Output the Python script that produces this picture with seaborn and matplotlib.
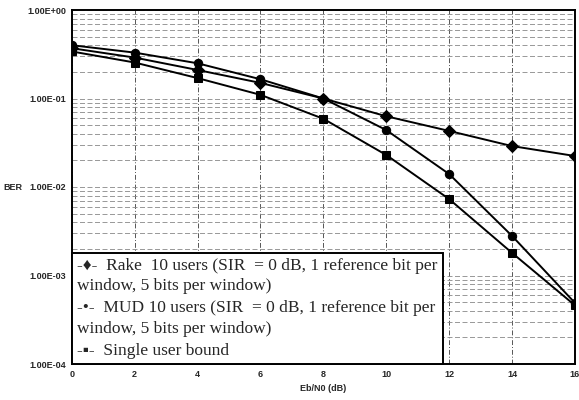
import numpy as np
import pandas as pd
import matplotlib
matplotlib.use('Agg')
import matplotlib.pyplot as plt
import seaborn as sns
from matplotlib.lines import Line2D
from matplotlib.ticker import FuncFormatter, LogLocator, FixedLocator

ebn0 = [0, 2, 4, 6, 8, 10, 12, 14, 16]
rake = [0.37, 0.29, 0.21, 0.15, 0.10, 0.063, 0.043, 0.029, 0.0224]
mud = [0.40, 0.33, 0.25, 0.165, 0.10, 0.044, 0.014, 0.0028, 0.00049]
single = [0.34, 0.255, 0.17, 0.11, 0.059, 0.023, 0.0073, 0.0018, 0.00046]

labels = ['Rake  10 users (SIR  = 0 dB, 1 reference bit per\nwindow, 5 bits per window)',
          'MUD 10 users (SIR  = 0 dB, 1 reference bit per\nwindow, 5 bits per window)',
          'Single user bound']
legend_marks = ['-\u2666-', '-\u2022-', '-\u25aa-']

df = pd.DataFrame({
    'Eb/N0': ebn0 * 3,
    'BER': rake + mud + single,
    'curve': [labels[0]] * 9 + [labels[1]] * 9 + [labels[2]] * 9,
})

sns.set_style('white')
fig = plt.figure(figsize=(5.79, 4.0), dpi=100)
ax = fig.add_axes([0.124, 0.09, 0.869, 0.885])

markers = {labels[0]: 'D', labels[1]: 'o', labels[2]: 's'}
sns.lineplot(data=df, x='Eb/N0', y='BER', hue='curve', style='curve',
             palette=['black'] * 3, markers=markers, dashes=False,
             markersize=6, linewidth=1.4, markeredgecolor='black',
             legend=False, ax=ax)

ax.set_yscale('log')
ax.set_ylim(1e-4, 1)
ax.set_xlim(0, 16)
ax.xaxis.set_major_locator(FixedLocator(ebn0))
ax.yaxis.set_major_locator(LogLocator(base=10, numticks=10))
ax.yaxis.set_minor_locator(LogLocator(base=10, subs=np.arange(2, 10), numticks=20))
ax.yaxis.set_major_formatter(FuncFormatter(lambda v, p: '%.2E' % v))
ax.tick_params(axis='both', which='both', length=0, labelsize=6.5, pad=4)
for t in ax.get_xticklabels() + ax.get_yticklabels():
    t.set_fontweight('bold')
    t.set_family('Liberation Sans')

ax.grid(True, which='major', axis='x', color='#555555', linestyle=(0, (5, 2, 1, 2)), linewidth=0.7)
ax.grid(True, which='both', axis='y', color='#888888', linestyle=(0, (6, 3)), linewidth=0.6)
for s in ax.spines.values():
    s.set_color('black')
    s.set_linewidth(1.4)

ax.set_xlabel('Eb/N0 (dB)', fontsize=6.5, fontweight='bold', family='Liberation Sans', labelpad=4)
ax.set_ylabel('BER', fontsize=6.5, fontweight='bold', family='Liberation Sans', rotation=0, ha='center')
ax.yaxis.set_label_coords(-0.118, 0.485)

# legend: marker glyph is part of the text so the second line hangs at the left edge
handles = [Line2D([], [], linestyle='none') for _ in labels]
leg_labels = [m + '  ' + l for m, l in zip(legend_marks, labels)]
leg = ax.legend(handles, leg_labels, loc='lower left', bbox_to_anchor=(0, 0),
                prop={'family': ['Liberation Serif', 'DejaVu Sans'], 'size': 12.5},
                handlelength=0, handletextpad=0, borderaxespad=0,
                labelspacing=0.35, borderpad=0.3, frameon=True, fancybox=False)
leg.get_frame().set_edgecolor('black')
leg.get_frame().set_linewidth(1.4)
leg.get_frame().set_alpha(1)
for t in leg.get_texts():
    t.set_linespacing(1.35)

fig.savefig('out.png', dpi=100)
